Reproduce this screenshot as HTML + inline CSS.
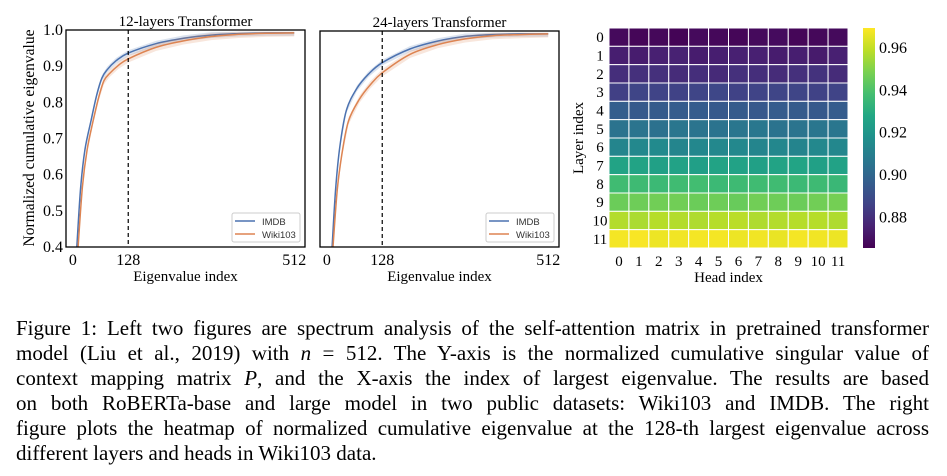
<!DOCTYPE html>
<html><head><meta charset="utf-8">
<style>
html,body{margin:0;padding:0;background:#fff;}
body{width:947px;height:476px;overflow:hidden;position:relative;font-family:"Liberation Serif",serif;}
svg{position:absolute;left:0;top:0;}
.cap{position:absolute;left:16px;width:913px;font-size:21px;line-height:25px;color:#000;text-align:justify;text-align-last:justify;white-space:nowrap;}
.cap.last{text-align-last:left;}
</style></head>
<body>
<svg id="fig" width="947" height="300"></svg>
<div class="cap" style="top:316px">Figure 1: Left two figures are spectrum analysis of the self-attention matrix in pretrained transformer</div>
<div class="cap" style="top:341px">model (Liu et al., 2019) with <i>n</i> = 512. The Y-axis is the normalized cumulative singular value of</div>
<div class="cap" style="top:366px">context mapping matrix <i>P</i>, and the X-axis the index of largest eigenvalue. The results are based</div>
<div class="cap" style="top:391px">on both RoBERTa-base and large model in two public datasets: Wiki103 and IMDB. The right</div>
<div class="cap" style="top:416px">figure plots the heatmap of normalized cumulative eigenvalue at the 128-th largest eigenvalue across</div>
<div class="cap last" style="top:441px">different layers and heads in Wiki103 data.</div>
<script>
const idx12Imdb = [9,18,28,42,55,67,79,100,128,192,256,320,384,448,512];
const val12Imdb = [0.40,0.566,0.67,0.75,0.82,0.867,0.89,0.915,0.936,0.962,0.977,0.986,0.99,0.992,0.992];
const idx12Wiki = [12,22,33,47,60,72,85,105,128,192,256,320,384,448,512];
const val12Wiki = [0.40,0.566,0.67,0.75,0.815,0.86,0.88,0.902,0.92,0.952,0.97,0.982,0.988,0.991,0.992];
const idx24Imdb = [12,20,30,45,69,96,128,192,256,320,384,448,512];
const val24Imdb = [0.40,0.56,0.68,0.78,0.84,0.88,0.912,0.95,0.972,0.985,0.99,0.992,0.992];
const idx24Wiki = [14,24,35,50,75,100,128,192,256,320,384,448,512];
const val24Wiki = [0.40,0.56,0.66,0.75,0.81,0.85,0.884,0.935,0.962,0.978,0.987,0.99,0.992];
const xTicks = [0,128,512];
const yTicks = [0.4,0.5,0.6,0.7,0.8,0.9,1.0];
const heatRows = [0.867,0.874,0.879,0.886,0.895,0.905,0.913,0.925,0.936,0.946,0.957,0.967];
const heatJitter = [0.001,-0.001,0.0,-0.002,0.001,0.0,-0.001,0.001,0.002,-0.001,0.0,0.001];
const cbTicks = [0.88,0.90,0.92,0.94,0.96];
const headLabels = [0,1,2,3,4,5,6,7,8,9,10,11];

const NS="http://www.w3.org/2000/svg";
const svg=document.getElementById('fig');
function mk(tag,attrs,parent){const e=document.createElementNS(NS,tag);for(const k in attrs)e.setAttribute(k,attrs[k]);(parent||svg).appendChild(e);return e;}
function txt(s,x,y,size,anchor,parent){const t=mk('text',{x:x,y:y,'font-size':size,'text-anchor':anchor||'middle','font-family':'Liberation Serif, serif',fill:'#000'},parent);t.textContent=s;return t;}
function smooth(pts){let d='M'+pts[0][0].toFixed(1)+' '+pts[0][1].toFixed(1);
  for(let i=0;i<pts.length-1;i++){const p0=pts[Math.max(0,i-1)],p1=pts[i],p2=pts[i+1],p3=pts[Math.min(pts.length-1,i+2)];
    const c1=[p1[0]+(p2[0]-p0[0])/6,p1[1]+(p2[1]-p0[1])/6],c2=[p2[0]-(p3[0]-p1[0])/6,p2[1]-(p3[1]-p1[1])/6];
    d+=' C'+c1.map(v=>v.toFixed(1)).join(' ')+' '+c2.map(v=>v.toFixed(1)).join(' ')+' '+p2.map(v=>v.toFixed(1)).join(' ');}
  return d;}

function panel(x0,x1,y0,y1,title,series,showY){
  const g=mk('g',{});
  
  
  const xs=v=>x0+(v+16)/(537+16)*(x1-x0);
  const ys=v=>y1-(v-0.4)/0.6*(y1-y0);
  const cp=mk('clipPath',{id:'c'+x0},g);mk('rect',{x:x0,y:y0,width:x1-x0,height:y1-y0},cp);
  series.forEach(s=>{
    const up=s.i.map((v,k)=>xs(v)+','+ys(Math.min(s.v[k]+s.w,0.995)));
    const dn=s.i.map((v,k)=>xs(v)+','+ys(s.v[k]-s.w)).reverse();
    const band=mk('polygon',{points:up.concat(dn).join(' '),fill:s.c,'fill-opacity':0.2,'clip-path':'url(#c'+x0+')'},g);
    
    
    const pts=[[xs(s.i[0]),y1+2]].concat(s.i.map((v,k)=>[xs(v),ys(s.v[k])]));
    const p=mk('path',{d:smooth(pts),fill:'none',stroke:s.c,'stroke-width':1.5,'clip-path':'url(#c'+x0+')'},g);
    
    
  });
  const vl=mk('line',{x1:xs(128),x2:xs(128),y1:y0,y2:y1,stroke:'#000','stroke-width':1.2,'stroke-dasharray':'4,3'},g);
  
  
  mk('rect',{x:x0,y:y0,width:x1-x0,height:y1-y0,fill:'none',stroke:'#000','stroke-width':1.3},g);
  xTicks.forEach(t=>{const e=txt(String(t),xs(t),y1+18,16,'middle',g);});
  if(showY)yTicks.forEach(t=>{const e=txt(t.toFixed(1),x0-3,ys(t)+5,16,'end',g);});
  const tt=txt(title,(x0+x1)/2,y0-4,15,'middle',g);
  const xl=txt('Eigenvalue index',(x0+x1)/2,y1+34,15,'middle',g);
  const lg=mk('g',{},g);
  
  
  const lx=x1-73,ly=y1-34;
  mk('rect',{x:lx,y:ly,width:68,height:29,rx:2,fill:'#fff',stroke:'#ccc','stroke-width':1},lg);
  [['IMDB','#4c72b0'],['Wiki103','#dd8452']].forEach((e,k)=>{
    mk('line',{x1:lx+3,x2:lx+23,y1:ly+8+k*13,y2:ly+8+k*13,stroke:e[1],'stroke-width':1.5},lg);
    const t=mk('text',{x:lx+30,y:ly+12+k*13,'font-size':9.5,'font-family':'Liberation Sans, sans-serif',fill:'#333'},lg);t.textContent=e[0];
  });
}
panel(66,305,30,247,'12-layers Transformer',[
 {i:idx12Imdb,v:val12Imdb,c:'#4c72b0',w:0.008,name:'imdb'},{i:idx12Wiki,v:val12Wiki,c:'#dd8452',w:0.01,name:'wiki103'}],true);
panel(320,559,31,247,'24-layers Transformer',[
 {i:idx24Imdb,v:val24Imdb,c:'#4c72b0',w:0.008,name:'imdb'},{i:idx24Wiki,v:val24Wiki,c:'#dd8452',w:0.01,name:'wiki103'}],false);
const yl=txt('Normalized cumulative eigenvalue',0,0,15.5,'middle');
yl.setAttribute('transform','translate(34,138) rotate(-90)');



const vir=[[68,1,84],[72,35,116],[64,67,135],[52,94,141],[41,120,142],[32,144,140],[34,167,132],[68,190,112],[121,209,81],[189,222,38],[253,231,37]];
function viridis(t){t=Math.max(0,Math.min(1,t));const f=t*10,i=Math.min(9,Math.floor(f)),r=f-i;const a=vir[i],b=vir[i+1];return 'rgb('+a.map((c,k)=>Math.round(c+(b[k]-c)*r)).join(',')+')';}
const vmin=0.865,vmax=0.969;
const hx0=609,hx1=848,hy0=28,hy1=248;
const cw=(hx1-hx0)/12,ch=(hy1-hy0)/12;
const hg=mk('g',{});


heatRows.forEach((rv,r)=>{headLabels.forEach((h,c)=>{
  const v=rv+heatJitter[(c+r*5)%12]*0.6;
  const cell=mk('rect',{x:hx0+c*cw,y:hy0+r*ch,width:cw,height:ch,fill:viridis((v-vmin)/(vmax-vmin)),stroke:'#fff','stroke-width':1},hg);
  
  
});
 const t=txt(String(r),hx0-9,hy0+r*ch+ch/2+5,15,'middle');
});
headLabels.forEach((h,c)=>{const t=txt(String(h),hx0+c*cw+cw/2,hy1+18,15,'middle');});
const hl=txt('Head index',(hx0+hx1)/2,hy1+34,15,'middle');
const ll=txt('Layer index',0,0,15,'middle');ll.setAttribute('transform','translate(583,138) rotate(-90)');
const defs=mk('defs',{});const gr=mk('linearGradient',{id:'cb',x1:0,y1:1,x2:0,y2:0},defs);
for(let k=0;k<=10;k++)mk('stop',{offset:k/10,'stop-color':viridis(k/10)},gr);
const cbx=863,cbw=12;
const cb=mk('rect',{x:cbx,y:hy0,width:cbw,height:hy1-hy0,fill:'url(#cb)'});


cbTicks.forEach(t=>{const y=hy1-(t-vmin)/(vmax-vmin)*(hy1-hy0);const e=txt(t.toFixed(2),cbx+cbw+4,y+6,16,'start');});
</script>
</body></html>
